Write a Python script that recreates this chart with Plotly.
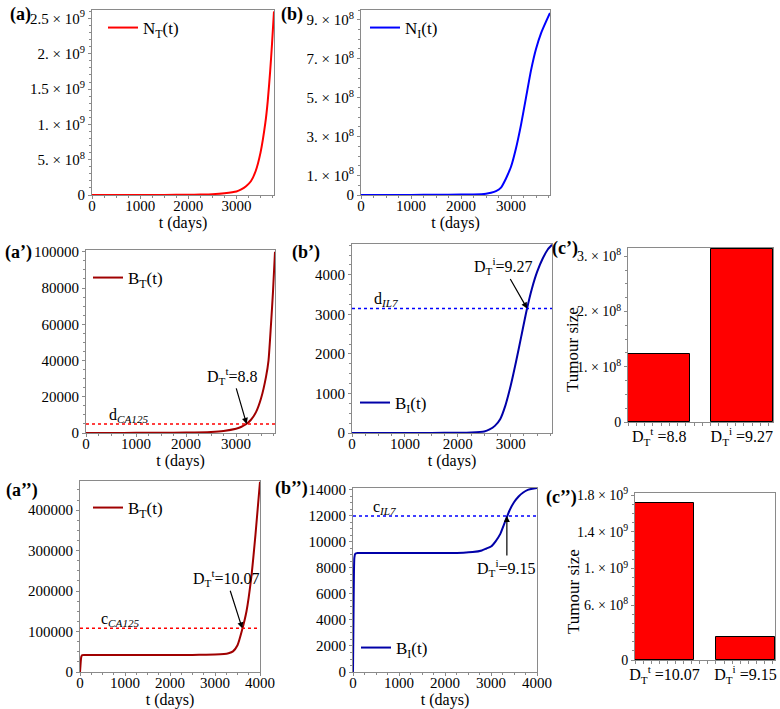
import plotly.graph_objects as go

W, H = 780, 709
FONT = "Liberation Serif"
FRAME = "#8a8a8a"

# ---- data ----
# (a) N_T(t)
t_a = [0, 500, 1000, 1500, 2000, 2250, 2500, 2750, 3000, 3100, 3200, 3300,
       3400, 3500, 3600, 3650, 3700, 3740, 3780]
N_T = [0, 1e5, 5e5, 1.5e6, 4e6, 7e6, 1.2e7, 2.5e7, 5e7, 8e7, 1.25e8, 1.95e8,
       3.4e8, 6.0e8, 1.02e9, 1.33e9, 1.75e9, 2.15e9, 2.6e9]

# (b) N_I(t)
t_b = [0, 500, 1000, 1500, 2000, 2250, 2500, 2600, 2700, 2800, 2900, 3000,
       3100, 3200, 3300, 3400, 3500, 3600, 3700, 3780]
N_I = [0, 1e5, 5e5, 1e6, 2e6, 3e6, 7e6, 1.2e7, 2.0e7, 3.8e7, 8.5e7, 1.45e8,
       2.4e8, 3.6e8, 5.0e8, 6.4e8, 7.5e8, 8.3e8, 8.9e8, 9.35e8]

# (a') B_T(t)
t_ap = [0, 500, 1000, 1500, 2000, 2500, 2750, 3000, 3100, 3200, 3300, 3400,
        3500, 3600, 3650, 3700, 3740, 3780]
B_T1 = [50, 60, 80, 120, 250, 600, 1100, 2300, 3300, 4800, 7300, 11500,
        19000, 31000, 40000, 60000, 78000, 100000]
d_CA125 = 5000
DTt_1 = 3212          # 8.8 years

# (b') B_I(t)
t_bp = [0, 500, 1000, 1500, 2000, 2250, 2500, 2600, 2700, 2800, 2900, 3000,
        3100, 3200, 3300, 3400, 3500, 3600, 3700, 3780]
B_I1 = [0, 0, 1, 3, 8, 15, 40, 90, 180, 350, 700, 1200,
        1800, 2450, 3100, 3650, 4080, 4400, 4640, 4760]
d_IL7 = 3150
DTi_1 = 3310          # 9.27 years

# (a'') B_T(t)
t_app = [0, 10, 20, 30, 50, 100, 500, 1000, 1500, 2000, 2500, 2800, 3000,
         3200, 3300, 3400, 3500, 3600, 3700, 3800, 3900, 4000]
B_T2 = [0, 15000, 30000, 38000, 41500, 42000, 42000, 42000, 42000, 42000,
        42200, 42600, 43000, 44500, 46500, 51000, 66000, 103000, 150000,
        228000, 340000, 470000]
c_CA125 = 108000
DTt_2 = 3605          # 10.07 years

# (b'') B_I(t)
t_bpp = [0, 10, 20, 30, 50, 100, 500, 1000, 1500, 2000, 2400, 2600, 2800,
         2900, 3000, 3100, 3200, 3300, 3400, 3500, 3600, 3700, 3800, 3900, 4000]
B_I2 = [0, 4000, 7500, 8800, 9100, 9150, 9150, 9150, 9150, 9150, 9170, 9220,
        9350, 9500, 9650, 10050, 10600, 11500, 12400, 13050, 13500, 13800,
        14000, 14100, 14150]
c_IL7 = 12000
DTi_2 = 3345          # 9.15 years

# (c') and (c'') tumour sizes at detection
bar_labels_1 = ["D<sub>T</sub><sup>t</sup> =8.8", "D<sub>T</sub><sup>i</sup> =9.27"]
bar_vals_1 = [1.24e8, 3.14e8]
bar_labels_2 = ["D<sub>T</sub><sup>t</sup> =10.07", "D<sub>T</sub><sup>i</sup> =9.15"]
bar_vals_2 = [1.72e9, 2.5e8]


def dx(l, r):
    return [l / W, r / W]


def dy(t, b):
    return [1 - b / H, 1 - t / H]


def sci(m, e):
    return f"{m} × 10<sup>{e}</sup>"


def axis(domain, rng, **kw):
    d = dict(domain=domain, range=rng, showline=True, linecolor=FRAME,
             linewidth=1, mirror=True, ticks="outside", ticklen=3,
             tickcolor=FRAME, showgrid=False, zeroline=False, automargin=False,
             tickfont=dict(size=15, family=FONT, color="black"))
    d.update(kw)
    return d


def xt(domain, tmax, ticks):
    return axis(domain, [0, tmax], tickmode="array", tickvals=ticks,
                ticktext=[str(v) for v in ticks], ticklabelstandoff=-6,
                minor=dict(ticks="outside", ticklen=2, dtick=250, tickcolor=FRAME),
                title=dict(text="t (days)", font=dict(size=16, family=FONT), standoff=2))


fig = go.Figure()

line_w = 2
fig.add_trace(go.Scatter(x=t_a, y=N_T, mode="lines", line=dict(color="#ff0000", width=line_w, shape="spline", smoothing=0.6),
                         name="N<sub>T</sub>(t)", xaxis="x", yaxis="y", legend="legend"))
fig.add_trace(go.Scatter(x=t_b, y=N_I, mode="lines", line=dict(color="#0000ff", width=line_w, shape="spline", smoothing=0.6),
                         name="N<sub>I</sub>(t)", xaxis="x2", yaxis="y2", legend="legend2"))
fig.add_trace(go.Scatter(x=t_ap, y=B_T1, mode="lines", line=dict(color="#a00000", width=line_w, shape="spline", smoothing=0.6),
                         name="B<sub>T</sub>(t)", xaxis="x3", yaxis="y3", legend="legend3"))
fig.add_trace(go.Scatter(x=t_bp, y=B_I1, mode="lines", line=dict(color="#0000a8", width=line_w, shape="spline", smoothing=0.6),
                         name="B<sub>I</sub>(t)", xaxis="x4", yaxis="y4", legend="legend4"))
fig.add_trace(go.Bar(x=[0, 1], y=bar_vals_1, width=0.754, marker=dict(color="#ff0000", line=dict(color="black", width=1)),
                     showlegend=False, xaxis="x5", yaxis="y5"))
fig.add_trace(go.Scatter(x=t_app, y=B_T2, mode="lines", line=dict(color="#a00000", width=line_w, shape="spline", smoothing=0.5),
                         name="B<sub>T</sub>(t)", xaxis="x6", yaxis="y6", legend="legend5"))
fig.add_trace(go.Scatter(x=t_bpp, y=B_I2, mode="lines", line=dict(color="#0000a8", width=line_w, shape="spline", smoothing=0.5),
                         name="B<sub>I</sub>(t)", xaxis="x7", yaxis="y7", legend="legend6"))
fig.add_trace(go.Bar(x=[0, 1], y=bar_vals_2, width=0.73, marker=dict(color="#ff0000", line=dict(color="black", width=1)),
                     showlegend=False, xaxis="x8", yaxis="y8"))

# threshold lines
for n, yv, col in [(3, d_CA125, "#ff0000"), (4, d_IL7, "#0000ff"), (6, c_CA125, "#ff0000"), (7, c_IL7, "#0000ff")]:
    fig.add_shape(type="line", xref=f"x{n} domain", yref=f"y{n}", x0=0, x1=1, y0=yv, y1=yv,
                  line=dict(color=col, width=1.5, dash="dot"))

fig.update_layout(
    width=W, height=H, margin=dict(l=0, r=0, t=0, b=0, autoexpand=False),
    paper_bgcolor="white", plot_bgcolor="white",
    font=dict(family=FONT, color="black"),
    # row 1
    xaxis=xt(dx(92, 274), 3780, [0, 1000, 2000, 3000]),
    yaxis=axis(dy(10, 195), [0, 2.62e9], anchor="x", tickmode="array",
               tickvals=[0, 5e8, 1e9, 1.5e9, 2e9, 2.5e9],
               ticktext=["0", sci("5.", 8), sci("1.", 9), sci("1.5", 9), sci("2.", 9), sci("2.5", 9)],
               minor=dict(ticks="outside", ticklen=2, dtick=1e8, tickcolor=FRAME)),
    xaxis2=dict(xt(dx(361, 550), 3780, [0, 1000, 2000, 3000]), anchor="y2"),
    yaxis2=axis(dy(10, 195), [0, 9.5e8], anchor="x2", tickmode="array",
                tickvals=[0, 1e8, 3e8, 5e8, 7e8, 9e8],
                ticktext=["0", sci("1.", 8), sci("3.", 8), sci("5.", 8), sci("7.", 8), sci("9.", 8)],
                minor=dict(ticks="outside", ticklen=2, dtick=5e7, tickcolor=FRAME)),
    # row 2
    xaxis3=dict(xt(dx(86, 275), 3780, [0, 1000, 2000, 3000]), anchor="y3"),
    yaxis3=axis(dy(250, 433), [0, 101000], anchor="x3", tickmode="array",
                tickvals=[0, 20000, 40000, 60000, 80000, 100000],
                ticktext=["0", "20000", "40000", "60000", "80000", "100000"],
                minor=dict(ticks="outside", ticklen=2, dtick=5000, tickcolor=FRAME)),
    xaxis4=dict(xt(dx(352, 552), 3780, [0, 1000, 2000, 3000]), anchor="y4"),
    yaxis4=axis(dy(244, 433), [0, 4780], anchor="x4", tickmode="array",
                tickvals=[0, 1000, 2000, 3000, 4000],
                ticktext=["0", "1000", "2000", "3000", "4000"],
                minor=dict(ticks="outside", ticklen=2, dtick=250, tickcolor=FRAME)),
    xaxis5=axis(dx(628, 773), [-0.377, 1.377], anchor="y5", tickmode="array",
                tickvals=[0, 1], ticktext=bar_labels_1, ticks="",
                tickfont=dict(size=16, family=FONT, color="black"),
                minor=dict(ticks="outside", ticklen=3, dtick=0.1, tick0=-0.377, tickcolor=FRAME)),
    yaxis5=axis(dy(248, 422), [0, 3.15e8], anchor="x5", tickmode="array",
                tickvals=[0, 1e8, 2e8, 3e8],
                ticktext=["0", sci("1.", 8), sci("2.", 8), sci("3.", 8)],
                tickfont=dict(size=14, family=FONT, color="black"),
                minor=dict(ticks="outside", ticklen=2, dtick=2.5e7, tickcolor=FRAME)),
    # row 3
    xaxis6=dict(xt(dx(80, 260), 4000, [0, 1000, 2000, 3000, 4000]), anchor="y6"),
    yaxis6=axis(dy(481, 672), [0, 472000], anchor="x6", tickmode="array",
                tickvals=[0, 100000, 200000, 300000, 400000],
                ticktext=["0", "100000", "200000", "300000", "400000"],
                minor=dict(ticks="outside", ticklen=2, dtick=25000, tickcolor=FRAME)),
    xaxis7=dict(xt(dx(353, 537), 4000, [0, 1000, 2000, 3000, 4000]), anchor="y7"),
    yaxis7=axis(dy(488, 672), [0, 14150], anchor="x7", tickmode="array",
                tickvals=list(range(0, 14001, 2000)),
                ticktext=[str(v) for v in range(0, 14001, 2000)],
                minor=dict(ticks="outside", ticklen=2, dtick=500, tickcolor=FRAME)),
    xaxis8=axis(dx(635, 775), [-0.365, 1.365], anchor="y8", tickmode="array",
                tickvals=[0, 1], ticktext=bar_labels_2, ticks="",
                tickfont=dict(size=16, family=FONT, color="black"),
                minor=dict(ticks="outside", ticklen=3, dtick=0.1, tick0=-0.365, tickcolor=FRAME)),
    yaxis8=axis(dy(493, 660), [0, 1.825e9], anchor="x8", tickmode="array",
                tickvals=[0, 6e8, 1e9, 1.4e9, 1.8e9],
                ticktext=["0", sci("6.", 8), sci("1.", 9), sci("1.4", 9), sci("1.8", 9)],
                tickfont=dict(size=14, family=FONT, color="black"),
                minor=dict(ticks="outside", ticklen=2, dtick=1e8, tickcolor=FRAME)),
    bargap=0,
    hovermode=False,
)

# legends, one per line panel
leg = dict(xanchor="left", yanchor="middle", bgcolor="rgba(0,0,0,0)",
           font=dict(size=17, family=FONT, color="black"), itemwidth=30)
for name, lx, ly in [("legend", 103, 28), ("legend2", 365, 28), ("legend3", 88, 278),
                     ("legend4", 355, 403), ("legend5", 88, 508), ("legend6", 356, 648)]:
    fig.update_layout({name: dict(leg, x=lx / W, y=1 - ly / H)})

# panel labels
for txt, px, py in [("(a)", 20, 15), ("(b)", 292, 15), ("(a’)", 18, 252), ("(b’)", 306, 252),
                    ("(c’)", 565, 248), ("(a’’)", 22, 490), ("(b’’)", 291, 488), ("(c’’)", 561, 497)]:
    fig.add_annotation(text=f"<b>{txt}</b>", xref="paper", yref="paper", x=px / W, y=1 - py / H,
                       xanchor="center", yanchor="middle", showarrow=False,
                       font=dict(size=18, family=FONT, color="black"))

# y titles of the bar panels
for px, py in [(572, 350), (573, 592)]:
    fig.add_annotation(text="Tumour size", xref="paper", yref="paper", x=px / W, y=1 - py / H,
                       xanchor="center", yanchor="middle", textangle=-90, showarrow=False,
                       font=dict(size=17, family=FONT, color="black"))

# threshold labels
for txt, n, xv, yv in [("d<sub><i>CA125</i></sub>", 3, 420, d_CA125), ("d<sub><i>IL7</i></sub>", 4, 380, d_IL7),
                       ("c<sub><i>CA125</i></sub>", 6, 420, c_CA125), ("c<sub><i>IL7</i></sub>", 7, 400, c_IL7)]:
    fig.add_annotation(text=txt, xref=f"x{n}", yref=f"y{n}", x=xv, y=yv, xanchor="left", yanchor="bottom",
                       showarrow=False, font=dict(size=16, family=FONT, color="black"), yshift=-3)

# detection arrows
for txt, n, xv, yv, ax, ay in [("D<sub>T</sub><sup>t</sup>=8.8", 3, DTt_1, d_CA125, -14, -48),
                               ("D<sub>T</sub><sup>i</sup>=9.27", 4, DTi_1, d_IL7, -24, -42),
                               ("D<sub>T</sub><sup>t</sup>=10.07", 6, DTt_2, c_CA125, -16, -50),
                               ("D<sub>T</sub><sup>i</sup>=9.15", 7, DTi_2, c_IL7, 0, 52)]:
    fig.add_annotation(text=txt, xref=f"x{n}", yref=f"y{n}", x=xv, y=yv, ax=ax, ay=ay,
                       showarrow=True, arrowhead=2, arrowsize=1, arrowwidth=1.2, arrowcolor="black",
                       font=dict(size=16, family=FONT, color="black"))

# the page body has a default 8px margin; drop it so the figure fills the window
fig.write_html("out.html", config={"displayModeBar": False},
               post_script="document.body.style.margin='0px';")
